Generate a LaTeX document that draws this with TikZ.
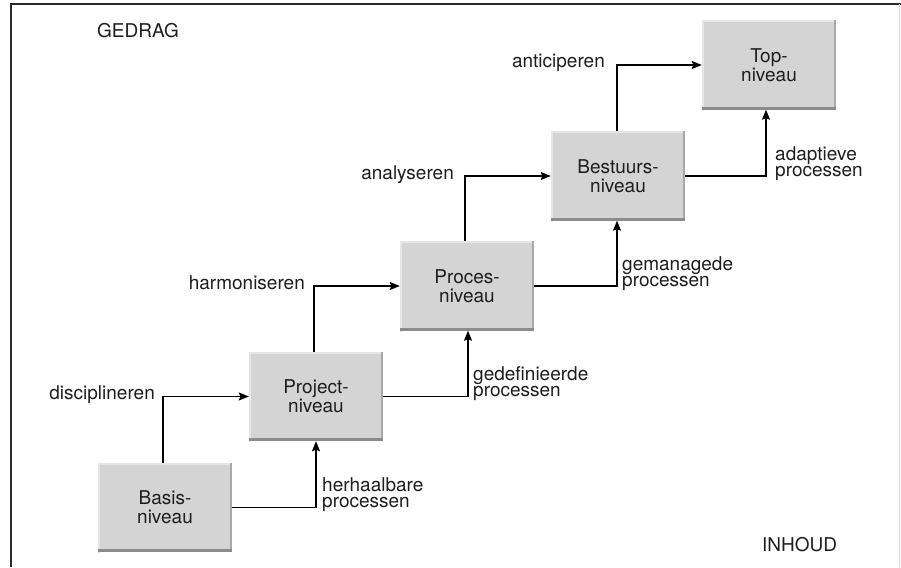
\documentclass[tikz,border=0pt]{standalone}
\usepackage{fontspec}
\setmainfont{TeX Gyre Heros}
\usetikzlibrary{arrows.meta}
\definecolor{boxfill}{HTML}{D4D4D4}
\definecolor{boxdark}{HTML}{8C8C8C}
\definecolor{boxmid}{HTML}{A8A8A8}
\definecolor{boxlight}{HTML}{E6E6E6}
\definecolor{textc}{HTML}{1E1E1E}
\definecolor{framec}{HTML}{2A2A2A}
\tikzset{
  lvl/.style={minimum width=134pt, minimum height=89pt, inner sep=0pt, fill=boxfill,
    align=center, font=\fontsize{19}{19}\selectfont, text=textc},
  lbl/.style={inner sep=0pt, font=\fontsize{19}{16}\selectfont, text=textc},
  rlbl/.style={lbl, align=left, text depth=0pt, anchor=south west},
  conn/.style={line width=1.3pt, -{Stealth[length=10pt,width=8pt,inset=1.5pt]}},
}
\begin{document}
\begin{tikzpicture}[x=1pt,y=-1pt]
\useasboundingbox (0,0) rectangle (901,567);
\fill[white] (0,0) rectangle (901,567);
% frame
\draw[framec, line width=1.3pt] (11,567) -- (11,4) -- (901,4);
\draw[black!15, line width=1pt] (899,4) -- (899,567);

% level boxes
\node[lvl] (basis) at (165,507.5) {Basis-\\niveau};
\node[lvl] (project) at (316,396.5) {Project-\\niveau};
\node[lvl] (proces) at (467,286) {Proces-\\niveau};
\node[lvl] (bestuur) at (618,176) {Bestuurs-\\niveau};
\node[lvl] (top) at (769,65) {Top-\\niveau};

% bevel edges
\foreach \n in {basis,project,proces,bestuur,top}{
  \draw[boxlight, line width=2pt] ([xshift=1pt,yshift=-1pt]\n.south west) -- ([xshift=1pt,yshift=-1pt]\n.north west) -- ([xshift=-1pt,yshift=-1pt]\n.north east);
  \draw[boxmid, line width=2.5pt] ([xshift=-1.25pt]\n.north east) -- ([xshift=-1.25pt]\n.south east);
  \draw[boxdark, line width=3pt] ([yshift=1.5pt]\n.south west) -- ([yshift=1.5pt]\n.south east);
}

% connectors
\draw[conn] ([xshift=-2pt]basis.north) |- (project.west);
\draw[conn] (basis.east) -| (project.south);
\draw[conn] ([xshift=-2pt]project.north) |- (proces.west);
\draw[conn] (project.east) -| ([xshift=1pt]proces.south);
\draw[conn] ([xshift=-2pt]proces.north) |- (bestuur.west);
\draw[conn] (proces.east) -| ([xshift=-1pt]bestuur.south);
\draw[conn] ([xshift=-1pt]bestuur.north) |- (top.west);
\draw[conn] (bestuur.east) -| ([xshift=-3pt]top.south);

% labels
\node[lbl, anchor=base east] (l1) at (155,399) {disciplineren};
\node[lbl, anchor=base east] (l2) at (305,289) {harmoniseren};
\node[lbl, anchor=base east] (l3) at (454,179) {analyseren};
\node[lbl, anchor=base east] (l4) at (605,68) {anticiperen};
\node[rlbl] (r1) at (322,508) {herhaalbare\\processen};
\node[rlbl] (r2) at (473,397) {gedefinieerde\\processen};
\node[rlbl] (r3) at (622,287) {gemanagede\\processen};
\node[rlbl] (r4) at (775,177) {adaptieve\\processen};

\node[lbl, anchor=base west] (gedrag) at (97,38) {GEDRAG};
\node[lbl, anchor=base west] (inhoud) at (762,551) {INHOUD};
\end{tikzpicture}
\end{document}
